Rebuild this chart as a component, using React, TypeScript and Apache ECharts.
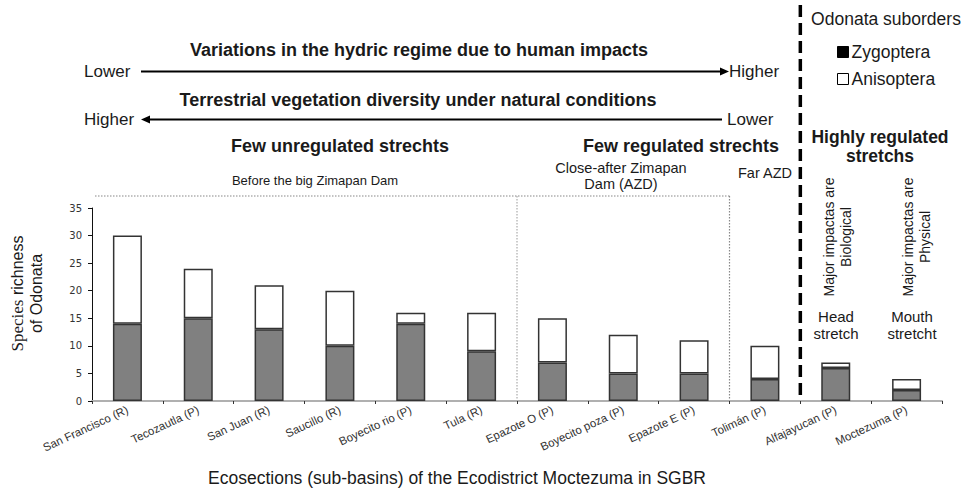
import React, { useEffect, useRef } from "react";
import * as echarts from "echarts";

const categories = [
  "San Francisco (R)",
  "Tecozautla (P)",
  "San Juan (R)",
  "Saucillo (R)",
  "Boyecito rio (P)",
  "Tula (R)",
  "Epazote O (P)",
  "Boyecito poza (P)",
  "Epazote E (P)",
  "Tolimán (P)",
  "Alfajayucan (P)",
  "Moctezuma (P)",
];
const zygoptera = [14, 15, 13, 10, 14, 9, 7, 5, 5, 4, 6, 2];
const anisoptera = [16, 9, 8, 10, 2, 7, 8, 7, 6, 6, 1, 2];
const seriesNames = ["Zygoptera", "Anisoptera"];
const yMin = 0;
const yMax = 35;
const yStep = 5;

const FONT = "Liberation Sans, Arial, sans-serif";
const INK = "#1a1a1a";

export default function App() {
  const ref = useRef<HTMLDivElement>(null);
  useEffect(() => {
    if (!ref.current) return;
    document.body.style.margin = "0";
    const chart = echarts.init(ref.current, null, { renderer: "svg" });
    const option: any = {
      animation: false,
      backgroundColor: "#fff",
      textStyle: { fontFamily: FONT },
      grid: { left: 90, right: 32, top: 208, bottom: 85, containLabel: false },
      legend: {
        orient: "vertical",
        left: 832,
        top: 38,
        itemGap: 9,
        itemWidth: 11,
        itemHeight: 11,
        icon: "rect",
        textStyle: { fontSize: 17.5, color: INK, fontFamily: FONT, padding: [0, 0, 0, -2] },
        data: [
          { name: seriesNames[0], itemStyle: { color: "#000", borderColor: "#000", borderWidth: 1 } },
          { name: seriesNames[1], itemStyle: { color: "#fff", borderColor: "#000", borderWidth: 1 } },
        ],
      },
      xAxis: {
        type: "category",
        data: categories,
        name: "Ecosections (sub-basins) of the Ecodistrict Moctezuma in SGBR",
        nameLocation: "middle",
        nameGap: 68,
        nameTextStyle: { fontSize: 17.5, color: INK, fontFamily: FONT, padding: [0, 120, 0, 0] },
        axisLine: { lineStyle: { color: "#b0b0b0", width: 2 } },
        axisTick: { show: true, length: 3, lineStyle: { color: "#333" } },
        axisLabel: { rotate: 25, interval: 0, fontSize: 11.5, color: "#333", margin: 8, fontFamily: FONT },
      },
      yAxis: {
        type: "value",
        min: yMin,
        max: yMax,
        interval: yStep,
        name: "{s|Species} richness\nof Odonata",
        nameLocation: "middle",
        nameGap: 46,
        nameRotate: 90,
        nameTextStyle: {
          fontSize: 16,
          color: INK,
          fontFamily: FONT,
          lineHeight: 19,
          padding: [0, 0, 0, 22],
          rich: { s: { fontFamily: "Liberation Serif, serif", fontSize: 17, color: INK } },
        },
        splitLine: { show: false },
        axisLine: { show: true, lineStyle: { color: "#111", width: 1 } },
        axisTick: { show: true, length: 4, lineStyle: { color: "#111" } },
        axisLabel: { fontSize: 10, color: "#333", margin: 10, fontFamily: "DejaVu Sans, sans-serif" },
      },
      series: [
        {
          name: seriesNames[0],
          type: "bar",
          stack: "total",
          barWidth: 29,
          data: zygoptera,
          itemStyle: { color: "#808080", borderColor: "#333", borderWidth: 1.5 },
        },
        {
          name: seriesNames[1],
          type: "bar",
          stack: "total",
          barWidth: 29,
          data: anisoptera,
          itemStyle: { color: "#ffffff", borderColor: "#333", borderWidth: 1.5 },
        },
      ],
    };
    chart.setOption(option);

    const px = (i: number) => chart.convertToPixel({ xAxisIndex: 0 }, categories[i]) as number;
    const half = (px(1) - px(0)) / 2;
    const b6 = px(5) + half;
    const b9 = px(8) + half;
    const b10 = px(9) + half;
    const y0 = chart.convertToPixel({ yAxisIndex: 0 }, 0) as number;
    const dotTop = 196;

    const txt = (x: number, y: number, text: string, opts: any = {}) => ({
      type: "text",
      x,
      y,
      rotation: opts.rotation || 0,
      style: {
        text,
        fill: INK,
        font: `${opts.bold ? "bold " : ""}${opts.size || 17}px ${FONT}`,
        textAlign: opts.align || "center",
        textVerticalAlign: "middle",
        lineHeight: opts.lineHeight,
      },
    });

    const graphic: any[] = [
      txt(419, 50, "Variations in the hydric regime due to human impacts", { bold: true, size: 18 }),
      txt(84, 71, "Lower", { align: "left" }),
      { type: "line", shape: { x1: 141, y1: 71.5, x2: 722, y2: 71.5 }, style: { stroke: "#000", lineWidth: 2 } },
      { type: "polygon", shape: { points: [[720, 67.5], [729, 71.5], [720, 75.5]] }, style: { fill: "#000" } },
      txt(729, 71, "Higher", { align: "left" }),
      txt(418, 100, "Terrestrial vegetation diversity under natural conditions", { bold: true, size: 18 }),
      txt(84, 119, "Higher", { align: "left" }),
      { type: "line", shape: { x1: 148, y1: 119.5, x2: 722, y2: 119.5 }, style: { stroke: "#000", lineWidth: 2 } },
      { type: "polygon", shape: { points: [[150, 115.5], [141, 119.5], [150, 123.5]] }, style: { fill: "#000" } },
      txt(727, 119, "Lower", { align: "left" }),
      txt(340, 146, "Few unregulated strechts", { bold: true, size: 18 }),
      txt(681, 146, "Few regulated strechts", { bold: true, size: 18 }),
      txt(315, 180, "Before the big Zimapan Dam", { size: 13 }),
      txt(621, 176, "Close-after Zimapan\nDam (AZD)", { size: 14.5, lineHeight: 16 }),
      txt(765, 173, "Far AZD", { size: 14.5 }),
      // dotted group frames
      { type: "line", shape: { x1: 95, y1: dotTop, x2: b9, y2: dotTop }, style: { stroke: "#888", lineWidth: 1.2, lineDash: [1.5, 1.5] } },
      { type: "line", shape: { x1: b6, y1: dotTop, x2: b6, y2: y0 }, style: { stroke: "#999", lineWidth: 1, lineDash: [1.5, 1.5] } },
      { type: "line", shape: { x1: b9, y1: dotTop, x2: b9, y2: y0 }, style: { stroke: "#888", lineWidth: 1.2, lineDash: [1.5, 1.5] } },
      // heavy dashed separator
      { type: "line", shape: { x1: b10, y1: 5, x2: b10, y2: y0 }, style: { stroke: "#000", lineWidth: 3.5, lineDash: [12, 6] } },
      txt(886, 19, "Odonata suborders", { size: 17.5 }),
      txt(880, 146, "Highly regulated\nstretchs", { bold: true, size: 17.5, lineHeight: 19 }),
      txt(837, 237, "Major impactas are\nBiological", { size: 14, lineHeight: 17, rotation: Math.PI / 2 }),
      txt(916, 237, "Major impactas are\nPhysical", { size: 14, lineHeight: 17, rotation: Math.PI / 2 }),
      txt(836, 325, "Head\nstretch", { size: 15, lineHeight: 17 }),
      txt(912, 325, "Mouth\nstretcht", { size: 15, lineHeight: 17 }),
    ];
    chart.setOption({ graphic });

    return () => chart.dispose();
  }, []);
  return <div ref={ref} style={{ width: 974, height: 488 }} />;
}
